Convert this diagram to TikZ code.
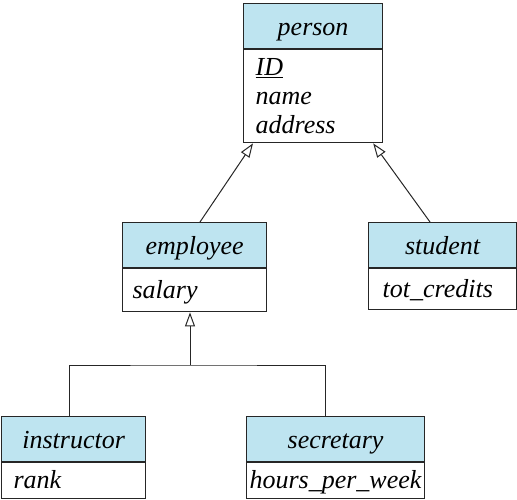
\documentclass[tikz,border=0pt]{standalone}
\usepackage{fontspec}
\setmainfont{Liberation Serif}
\usetikzlibrary{arrows.meta}
\definecolor{hdrblue}{RGB}{190,228,240}
\tikzset{
	classfont/.style={font=\fontsize{26}{29}\selectfont\itshape},
	hdr/.style={classfont, draw=black!85, line width=1.2pt, fill=hdrblue, anchor=north west, minimum height=45pt, inner sep=0pt, text height=22pt, text depth=4pt},
	attrs/.style={classfont, draw=black!85, line width=1.2pt, fill=white, anchor=north, align=left, inner xsep=12pt, inner ysep=0pt},
	oneline/.style={text height=21pt, text depth=5pt},
	isa/.style={draw=black!85, line width=1pt, -{Triangle[open,length=14pt,width=10pt,line width=1pt]}}
}
\begin{document}
\begin{tikzpicture}[x=1pt,y=-1pt]
			%%%%% START %%%%%
			\useasboundingbox (0,0) rectangle (517,500);
			
			\node[hdr, minimum width=139pt] (person) at (243,3) {person};
			\node[attrs, text width=115pt, minimum height=93pt] (personattr) at (person.south) {\underline{ID}\\name\\address};
			
			\node[hdr, minimum width=144pt] (employee) at (122,222) {employee};
			\node[attrs, oneline, text width=124pt, minimum height=43pt, inner xsep=10pt] (employeeattr) at (employee.south) {salary};
			
			\node[hdr, minimum width=148pt] (student) at (368,222) {student};
			\node[attrs, oneline, text width=120pt, minimum height=41pt, inner xsep=14pt] (studentattr) at (student.south) {tot\_credits};
			
			\node[hdr, minimum width=144pt] (instructor) at (1,416) {instructor};
			\node[attrs, oneline, text width=120pt, minimum height=36pt] (instructorattr) at (instructor.south) {rank};
			
			\node[hdr, minimum width=178pt] (secretary) at (246,416) {secretary};
			\node[attrs, oneline, text width=172pt, minimum height=36pt, inner xsep=3pt] (secretaryattr) at (secretary.south) {hours\_per\_week};
			
			\draw[isa] ([xshift=78pt]employee.north west) -- ([xshift=10pt]personattr.south west);
			\draw[isa] ([xshift=62pt]student.north west) -- ([xshift=-10pt]personattr.south east);
			
			\coordinate (join) at (190,365);
			\draw[isa] (join) -- (join |- employeeattr.south);
			\draw[draw=black!85, line width=1pt] ([xshift=68pt]instructor.north west) |- (join) -| ([xshift=79pt]secretary.north west);
			
			%%%%% END %%%%%
\end{tikzpicture}
\end{document}
